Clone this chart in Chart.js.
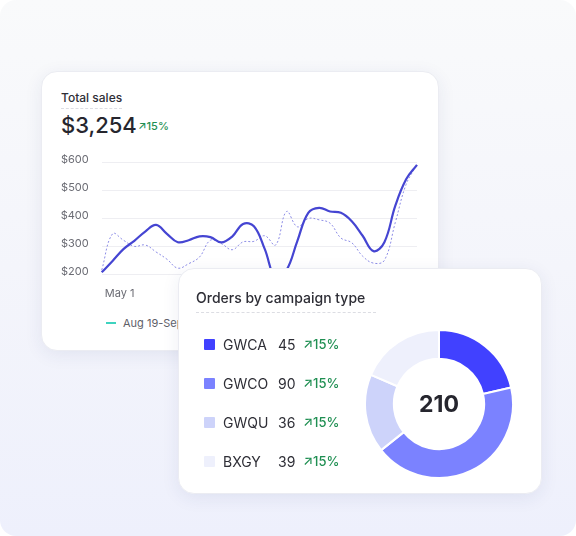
<!DOCTYPE html>
<html lang="en">
<head>
<meta charset="UTF-8">
<title>Sales and campaign orders</title>
<script src="https://cdn.jsdelivr.net/npm/chart.js@4"></script>
<style>
    body { margin: 0; background: #fff; font-family: Inter, "Noto Sans", sans-serif; color: #2b2b33; }
    .bg {
        position: absolute; left: 0; top: 0; width: 576px; height: 536px;
        border-radius: 16px; overflow: hidden;
        background: linear-gradient(180deg, #f9fafb 0%, #f4f5fb 50%, #eef0fc 100%);
    }
    .card {
        position: absolute; background: #fff; border-radius: 16px;
        border: 1px solid #ebecf2;
        box-shadow: 0 4px 18px rgba(40, 50, 110, 0.08);
        box-sizing: border-box;
    }
    #salesCard { left: 41px; top: 71px; width: 398px; height: 280px; }
    #ordersCard { left: 178px; top: 268px; width: 364px; height: 226px; }
    .abs { position: absolute; white-space: nowrap; }
    .title {
        font-size: 12px; font-weight: 500; color: #2e2e36;
        border-bottom: 1px dashed #dcdde3; padding-bottom: 3px;
    }
    .up { color: #1f8f52; font-weight: 500; }
    #salesCanvasBox { position: absolute; left: 14px; top: 71px; width: 374px; height: 163px; }
    #donutBox { position: absolute; left: 185px; top: 60px; width: 150px; height: 150px; }
    .row { position: absolute; left: 25px; height: 16px; font-size: 14px; color: #2e2e36; }
    .row .sw { position: absolute; left: 0; top: 2px; width: 11px; height: 11px; border-radius: 1px; }
    .row .name { position: absolute; left: 19px; top: -1px; }
    .row .val { position: absolute; left: 74px; top: -1px; }
    .row .pct { position: absolute; left: 99px; top: -1px; font-size: 13px; }
</style>
</head>
<body>
<div class="bg"></div>

<div class="card" id="salesCard">
    <div class="abs title" style="left:19px; top:18px;">Total sales</div>
    <div class="abs" style="left:19px; top:40px; font-size:22px; font-weight:500; color:#26262e;">$3,254</div>
    <div class="abs up" style="left:96px; top:47px; font-size:11px;">&#8599;15%</div>
    <div id="salesCanvasBox"><canvas id="salesChart"></canvas></div>
    <div class="abs" style="left:64px; top:250px; width:10px; height:2px; background:#3ed3bf;"></div>
    <div class="abs" style="left:81px; top:244px; font-size:11px; color:#5f6068;">Aug 19-Sep 18, 2023</div>
</div>

<div class="card" id="ordersCard">
    <div class="abs title" style="left:17px; top:20px; font-size:14px; width:180px; padding-bottom:6px;">Orders by campaign type</div>
    <div id="legendRows"></div>
    <div id="donutBox"><canvas id="ordersChart"></canvas></div>
    <div class="abs" style="left:185px; top:121px; width:150px; text-align:center; font-size:23px; font-weight:700; color:#26262e;" id="totalText"></div>
</div>

<script>
    // line chart data
    const dayLabels = ['May 1', 'May 2', 'May 3', 'May 4', 'May 5', 'May 6', 'May 7', 'May 8', 'May 9', 'May 10',
        'May 11', 'May 12', 'May 13', 'May 14', 'May 15', 'May 16', 'May 17', 'May 18', 'May 19', 'May 20',
        'May 21', 'May 22', 'May 23', 'May 24', 'May 25', 'May 26', 'May 27', 'May 28', 'May 29', 'May 30'];
    const currentSales = [207, 248, 290, 320, 353, 377, 345, 315, 322, 336,
        333, 314, 335, 380, 372, 290, 185, 215, 320, 420,
        438, 425, 420, 390, 338, 283, 315, 445, 540, 592];
    const previousSales = [215, 345, 322, 300, 305, 280, 254, 222, 238, 262,
        322, 310, 288, 316, 318, 338, 305, 425, 370, 400,
        395, 383, 330, 313, 265, 240, 250, 385, 522, 592];
    const yTicks = [200, 300, 400, 500, 600];

    // doughnut data
    const campaignTypes = ['GWCA', 'GWCO', 'GWQU', 'BXGY'];
    const campaignOrders = [45, 90, 36, 39];
    const campaignChange = ['15%', '15%', '15%', '15%'];
    const campaignColors = ['#4141ff', '#7b82ff', '#cdd3fa', '#eef0fc'];

    new Chart(document.getElementById('salesChart'), {
        type: 'line',
        data: {
            labels: dayLabels,
            datasets: [{
                label: 'Current',
                data: currentSales,
                borderColor: '#4545d2',
                borderWidth: 2.2,
                tension: 0.4,
                pointRadius: 0,
                clip: false
            }, {
                label: 'Previous',
                data: previousSales,
                borderColor: '#8c8ce6',
                borderWidth: 1,
                borderDash: [2, 2],
                tension: 0.4,
                pointRadius: 0,
                clip: false
            }]
        },
        options: {
            responsive: true,
            maintainAspectRatio: false,
            animation: false,
            layout: { padding: { top: 10, right: 2, bottom: 1, left: 0 } },
            plugins: { legend: { display: false }, tooltip: { enabled: false } },
            scales: {
                x: {
                    afterFit: s => { s.height = 30.7; },
                    grid: { display: false, drawTicks: false },
                    border: { display: false },
                    ticks: {
                        autoSkip: false,
                        maxRotation: 0,
                        align: 'start',
                        labelOffset: 3,
                        padding: 13,
                        color: '#6b6c74',
                        font: { family: 'Inter', size: 11 },
                        callback: (v, i) => (i % 7 === 0 && i < 28 ? dayLabels[i] : '')
                    }
                },
                y: {
                    min: yTicks[0],
                    max: yTicks[yTicks.length - 1],
                    afterBuildTicks: s => { s.ticks = yTicks.map(v => ({ value: v })); },
                    afterFit: s => { s.width = 45.7; },
                    grid: { color: '#eeeef2', drawTicks: false },
                    border: { display: false },
                    ticks: {
                        padding: 13,
                        labelOffset: -3,
                        color: '#6b6c74',
                        font: { family: 'Inter', size: 11 },
                        callback: v => '$' + v
                    }
                }
            }
        }
    });

    const total = campaignOrders.reduce((a, b) => a + b, 0);
    document.getElementById('totalText').textContent = total;

    const rows = document.getElementById('legendRows');
    campaignTypes.forEach((name, i) => {
        const row = document.createElement('div');
        row.className = 'row';
        row.style.top = (68 + i * 39) + 'px';
        row.innerHTML = `
            <div class="sw" style="background:${campaignColors[i]}"></div>
            <div class="name">${name}</div>
            <div class="val">${campaignOrders[i]}</div>
            <div class="pct up">&#8599;${campaignChange[i]}</div>
        `;
        rows.appendChild(row);
    });

    new Chart(document.getElementById('ordersChart'), {
        type: 'doughnut',
        data: {
            labels: campaignTypes,
            datasets: [{
                data: campaignOrders,
                backgroundColor: campaignColors,
                borderColor: '#ffffff',
                borderWidth: 2
            }]
        },
        options: {
            responsive: true,
            maintainAspectRatio: false,
            animation: false,
            cutout: '61%',
            plugins: { legend: { display: false }, tooltip: { enabled: false } }
        }
    });
</script>
</body>
</html>
